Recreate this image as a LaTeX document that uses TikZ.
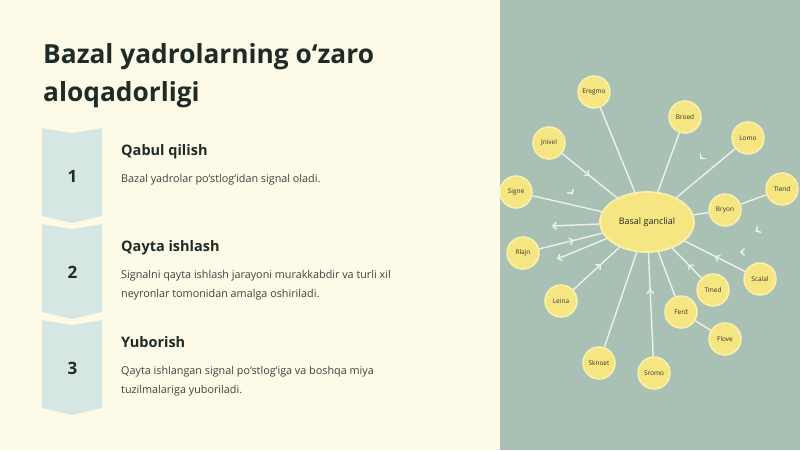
\documentclass[tikz,border=0pt]{standalone}
\usepackage{fontspec}
\setmainfont{Open Sans}
\usetikzlibrary{shapes.geometric, arrows.meta}
\usetikzlibrary{decorations.markings, positioning}
\definecolor{cream}{HTML}{FDFBE8}
\definecolor{sage}{HTML}{A9C0B5}
\definecolor{mist}{HTML}{D6E6E3}
\definecolor{ink}{HTML}{1F2B26}
\definecolor{textgrey}{HTML}{3C423D}
\definecolor{butter}{HTML}{F6E682}
\definecolor{halo}{HTML}{F9F0AE}
\definecolor{wire}{HTML}{EEF2E6}
\def\tip{Straight Barb[length=3.5pt,width=7pt]}
\tikzstyle{title}=[anchor=base west, inner sep=0pt, text=ink, font=\fontsize{26.3}{30}\selectfont\bfseries]
\tikzstyle{head}=[anchor=base west, inner sep=0pt, text=ink, font=\fontsize{14.5}{17}\selectfont\bfseries]
\tikzstyle{body}=[anchor=base west, inner sep=0pt, text=textgrey, font=\fontsize{10.8}{13}\selectfont]
\tikzstyle{num}=[anchor=base, inner sep=0pt, text=ink, font=\fontsize{17}{20}\selectfont\bfseries]
\tikzstyle{hub}=[ellipse, draw=halo, fill=butter, line width=1.8pt, minimum width=94pt, minimum height=60pt,
                 text=black!85, font=\fontsize{9}{10}\selectfont]
\tikzstyle{cell}=[circle, draw=halo, fill=butter, line width=1.5pt, minimum size=32pt, inner sep=0pt,
                  text=black!80, font=\fontsize{6.5}{7}\selectfont]
\tikzstyle{link}=[draw=wire, line width=1.4pt]
\tikzset{midarrow/.style={postaction={decorate}, decoration={markings,
         mark=at position #1 with {\arrow[wire]{\tip}}}}}

\begin{document}
\begin{tikzpicture}[x=1pt, y=-1pt]
  \useasboundingbox (0,0) rectangle (800,450);

  % panels
  \fill[cream] (0,0) rectangle (500,450);
  \fill[sage] (500,0) rectangle (800,450);

  \node[title] (title1) at (43,63.5) {Bazal yadrolarning o‘zaro};
  \node[title] (title2) at (43,101) {aloqadorligi};

  % steps
  \foreach \i/\t in {1/128,2/224,3/320}{
    \fill[mist] (42,\t) -- (72,\t+5) -- (102,\t) -- (102,\t+88) -- (72,\t+95) -- (42,\t+88) -- cycle;
    \node[num] (num\i) at (72.5,\t+54) {\i};
  }

  \node[head] (head1) at (121,155) {Qabul qilish};
  \node[body] (body1) at (121,182) {Bazal yadrolar po‘stlog‘idan signal oladi.};

  \node[head] (head2) at (121,251) {Qayta ishlash};
  \node[body] (body2a) at (121,278) {Signalni qayta ishlash jarayoni murakkabdir va turli xil};
  \node[body] (body2b) at (121,297) {neyronlar tomonidan amalga oshiriladi.};

  \node[head] (head3) at (121,347) {Yuborish};
  \node[body] (body3a) at (121,374) {Qayta ishlangan signal po‘stlog‘iga va boshqa miya};
  \node[body] (body3b) at (121,393) {tuzilmalariga yuboriladi.};

  % network
  \node[hub] (hub) at (647,222) {Basal ganclial};

  \foreach \n/\x/\y/\t in {eregmo/594/92/Eregmo, broed/685/117/Broed, lomo/748/138/Lomo,
      jnivel/549/143/Jnivel, signe/516/192/Signe, tlend/782/189/Tlend, bryon/725/210/Bryon,
      rlajn/523/253/Rlajn, leina/561/301/Leina, sknoet/599/363/Sknoet, sromo/654/373/Sromo,
      ferd/681/312/Ferd, tmed/713/290/Tmed, flove/725/339/Flove, scalal/760/279/Scalal}{
    \node[cell] (\n) at (\x,\y) {\t};
  }

  \foreach \a/\b in {eregmo/hub, broed/hub, lomo/hub, signe/hub, tlend/bryon, bryon/hub,
      sknoet/hub, ferd/hub, flove/ferd}{
    \draw[link] (\a) -- (\b);
  }
  \foreach \a/\p in {jnivel/0.5, rlajn/0.55, leina/0.6, sromo/0.65, tmed/0.45, scalal/0.5}{
    \draw[link, midarrow=\p] (\a) -- (hub);
  }

  \coordinate (outw) at (552,226);
  \coordinate (outsw) at (557,259);
  \draw[link, -{\tip}] (hub) -- (outw);
  \draw[link, -{\tip}] (hub) -- (outsw);

  \foreach \x/\y/\a in {571/192/60, 702/157/135, 758/230/150, 743/252/180}
    \draw[link, -{\tip}] (\x,\y) -- ++(\a:3);

\end{tikzpicture}
\end{document}
